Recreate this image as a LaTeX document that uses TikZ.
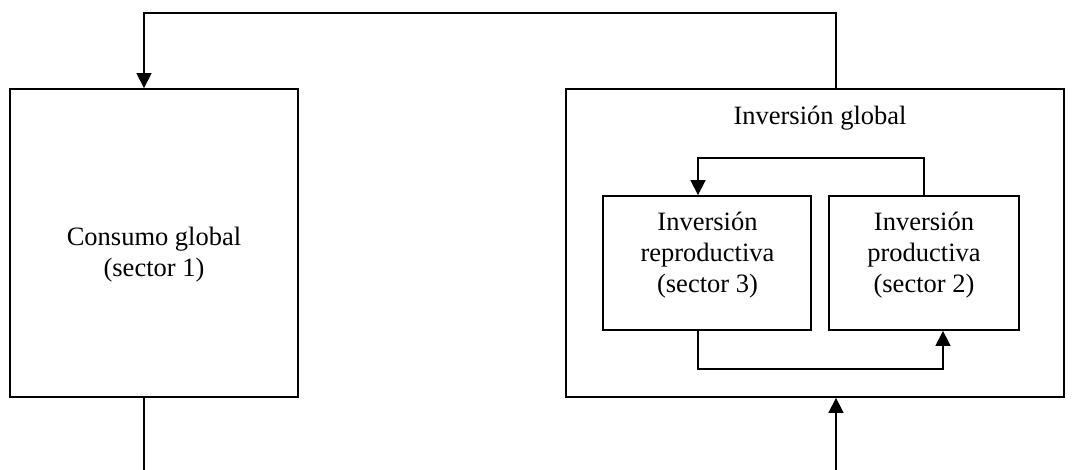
\documentclass[tikz,border=0pt]{standalone}
\usepackage{fontspec}
\setmainfont{Liberation Serif}
\usetikzlibrary{arrows.meta}
\begin{document}
\begin{tikzpicture}[x=1pt,y=-1pt,
  box/.style={draw,line width=1.8pt,inner sep=0pt,rectangle},
  conn/.style={line width=1.5pt},
  arr/.style={conn,-{Triangle[width=15pt,length=15pt]}},
  txt/.style={align=center,inner sep=0pt,font=\fontsize{26.5}{31}\selectfont}]
\useasboundingbox (0,0) rectangle (1073,470);
% boxes
\node[box,minimum width=288pt,minimum height=308pt] (lbox) at (154,243) {};
\node[box,minimum width=498pt,minimum height=308pt] (rbox) at (815,243) {};
\node[box,minimum width=208pt,minimum height=134pt] (il) at (707,263) {};
\node[box,minimum width=190pt,minimum height=134pt] (ir) at (924,263) {};
% texts
\node[txt] (lt) at (154,255) {Consumo global\\(sector 1)};
\node[txt,anchor=base] (rt) at (820,125) {Inversión global};
\node[txt] (ilt) at (707.5,255.5) {Inversión\\reproductiva\\(sector 3)};
\node[txt] (irt) at (924,255.5) {Inversión\\productiva\\(sector 2)};
% coordinates
\coordinate (t1) at (836,13);
\coordinate (t2) at (144,13);
\coordinate (b1) at (144,470);
\coordinate (b2) at (836,470);
\coordinate (i1) at (698,158);
\coordinate (i2) at (698,369);
\coordinate (i3) at (943,369);
% connectors
\draw[arr] (t1 |- rbox.north) -- (t1) -- (t2) -- (t2 |- lbox.north);
\draw[conn] (b1 |- lbox.south) -- (b1);
\draw[arr] (b2) -- (b2 |- rbox.south);
\draw[arr] (ir.north) -- (ir.north |- i1) -- (i1) -- (i1 |- il.north);
\draw[arr] (i2 |- il.south) -- (i2) -- (i3) -- (i3 |- ir.south);
\end{tikzpicture}
\end{document}
